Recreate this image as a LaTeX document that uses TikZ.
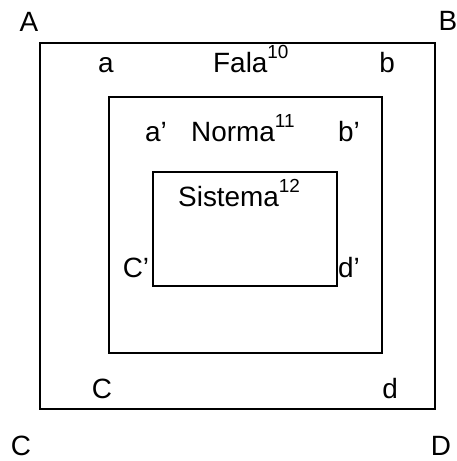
\documentclass[tikz,border=0pt]{standalone}
\usepackage{fontspec}
\setmainfont{Liberation Sans}
\newcommand\mysup[1]{\raisebox{14bp}{\fontsize{19}{20}\selectfont #1}}
\begin{document}
\begin{tikzpicture}[x=1bp,y=-1bp,
  box/.style={draw,line width=1.5bp,rectangle,inner sep=0pt},
  lbl/.style={anchor=base,inner sep=0pt,font=\fontsize{28}{32}\selectfont},
  lblw/.style={anchor=base west,inner sep=0pt,font=\fontsize{28}{32}\selectfont}]
\useasboundingbox (0,0) rectangle (457,461);
\node[box,minimum width=395bp,minimum height=366bp] (outer) at (237.5,226) {};
\node[box,minimum width=273bp,minimum height=256bp] (middle) at (245.5,225) {};
\node[box,minimum width=184bp,minimum height=114bp] (inner) at (245,229) {};
\node[lbl] (A) at (29,32) {A};
\node[lbl] (B) at (448,31) {B};
\node[lbl] (Cc) at (21,455) {C};
\node[lbl] (D) at (441,455) {D};
\node[lbl] (a) at (106,73) {a};
\node[lblw] (fala) at (213,73) {Fala\mysup{10}};
\node[lbl] (b) at (387,73) {b};
\node[lbl] (ap) at (156,142) {a’};
\node[lblw] (norma) at (191,142) {Norma\mysup{11}};
\node[lbl] (bp) at (349,142) {b’};
\node[lblw] (sistema) at (178,207) {Sistema\mysup{12}};
\node[lbl] (cp) at (136,277) {C’};
\node[lbl] (dp) at (349,277) {d’};
\node[lbl] (c) at (102,398) {C};
\node[lbl] (d) at (390,398) {d};
\end{tikzpicture}
\end{document}
